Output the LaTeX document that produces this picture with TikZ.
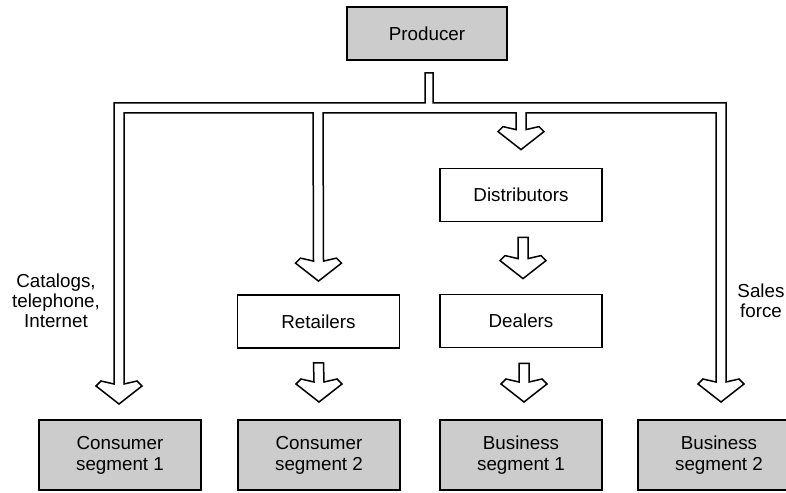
\documentclass[tikz,border=0pt]{standalone}
\usepackage{fontspec}
\setmainfont{Liberation Sans}
\usetikzlibrary{calc}
\newcommand{\headpath}[1]{-- ($(#1)+(5,-20)$) -- ($(#1)+(18,-23)$) -- ($(#1)+(23,-18)$) -- (#1) -- ($(#1)+(-23,-18)$) -- ($(#1)+(-18,-23)$) -- ($(#1)+(-5,-20)$)}
\tikzset{
  txt/.style={font=\fontsize{9.4}{10.5}\selectfont, align=center, inner sep=0pt},
  plainbox/.style={txt, draw=black, line width=0.9pt, fill=white, minimum width=81pt, minimum height=26.5pt},
  shadebox/.style={txt, draw=black, line width=1pt, fill=black!20, minimum width=81pt},
  pipe/.style={draw=black, line width=0.75pt, fill=white, line join=miter},
  lbl/.style={font=\fontsize{9.4}{10}\selectfont, align=center, inner sep=0pt}
}
\begin{document}
\begin{tikzpicture}[x=0.5pt,y=-0.5pt]
\useasboundingbox (0,0) rectangle (786,492);
\fill[white] (0,0) rectangle (786,492);
% boxes
\node[shadebox, minimum width=80pt, minimum height=26.5pt] (prod) at (427,33.5) {Producer};
\node[plainbox] (dist) at (521,195) {Distributors};
\node[plainbox] (deal) at (521,321) {Dealers};
\node[plainbox] (ret) at (318.5,321.5) {Retailers};
\node[shadebox, minimum height=35pt] (cs1) at (120,455) {Consumer\\segment 1};
\node[shadebox, minimum height=35pt] (cs2) at (319,455) {Consumer\\segment 2};
\node[shadebox, minimum height=35pt] (bs1) at (521,455) {Business\\segment 1};
\node[shadebox, minimum height=35pt] (bs2) at (719,455) {Business\\segment 2};
% labels
\node[lbl] (lcat) at (56,301) {Catalogs,\\telephone,\\Internet};
\node[lbl] (lsales) at (761,301) {Sales\\force};
% tips of the branch arrows
\coordinate (tL) at ($(cs1.north)+(-1,-15)$);
\coordinate (tR) at ($(ret.north)+(0,-13)$);
\coordinate (tD) at ($(dist.north)+(0,-18)$);
\coordinate (tS) at ($(bs2.north)+(2,-17)$);
\coordinate (stemL) at ($(prod.south)+(-2,12)$);
\coordinate (stemR) at ($(prod.south)+(6,12)$);
% pipe network from producer
\path[pipe] (stemL) -- (stemR) -- (stemR |- 0,103) -- (726,103)
  \headpath{tS} -- (716,113) -- (526,113)
  \headpath{tD} -- (516,113) -- (323,113)
  \headpath{tR} -- (313,113) -- (124,113)
  \headpath{tL} -- (114,103) -- (stemL |- 0,103) -- cycle;
% short arrows
\coordinate (a1top) at ($(ret.south)+(0,14)$);
\coordinate (a1tip) at ($(cs2.north)+(0,-17)$);
\coordinate (a2top) at ($(dist.south)+(2,15)$);
\coordinate (a2tip) at ($(deal.north)+(2,-15)$);
\coordinate (a3top) at ($(deal.south)+(3,15)$);
\coordinate (a3tip) at ($(bs1.north)+(3,-17)$);
\path[pipe] ($(a1top)+(-5,0)$) -- ($(a1top)+(5,0)$) \headpath{a1tip} -- cycle;
\path[pipe] ($(a2top)+(-5,0)$) -- ($(a2top)+(5,0)$) \headpath{a2tip} -- cycle;
\path[pipe] ($(a3top)+(-5,0)$) -- ($(a3top)+(5,0)$) \headpath{a3tip} -- cycle;
\end{tikzpicture}
\end{document}
